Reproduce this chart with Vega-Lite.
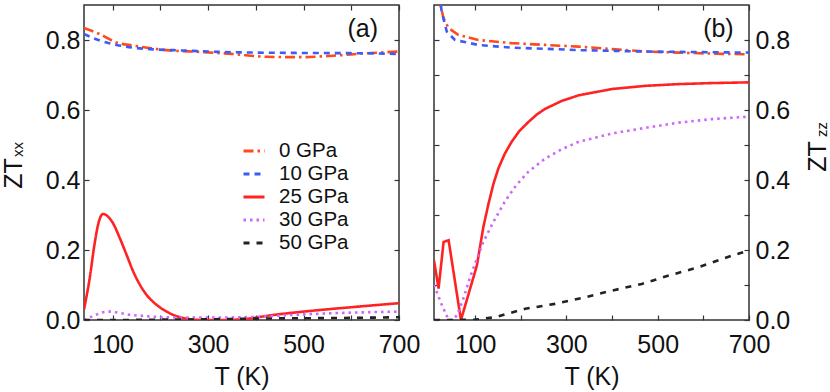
{
  "$schema": "https://vega.github.io/schema/vega-lite/v6.json",
  "background": "white",
  "padding": {"left": 0, "top": 3, "right": 0, "bottom": 0},
  "spacing": 11,
  "config": {
    "font": "Liberation Sans",
    "view": {"stroke": "#333333", "strokeWidth": 1.5},
    "axis": {
      "grid": false, "domain": false, "tickColor": "#333333", "tickSize": -5, "tickWidth": 1.2,
      "minExtent": 0,
      "labelFont": "Liberation Sans", "labelFontSize": 25, "labelColor": "#111111",
      "titleFont": "Liberation Sans", "titleFontSize": 25, "titleFontWeight": "normal", "titleColor": "#111111"
    }
  },
  "resolve": {"scale": {"color": "independent", "strokeDash": "independent"}},
  "datasets": {
    "a": [
      {"P": "0 GPa", "T": 40, "ZT": 0.834}, {"P": "0 GPa", "T": 73, "ZT": 0.817}, {"P": "0 GPa", "T": 108, "ZT": 0.793},
      {"P": "0 GPa", "T": 143, "ZT": 0.784}, {"P": "0 GPa", "T": 178, "ZT": 0.777}, {"P": "0 GPa", "T": 213, "ZT": 0.771},
      {"P": "0 GPa", "T": 282, "ZT": 0.766}, {"P": "0 GPa", "T": 352, "ZT": 0.760}, {"P": "0 GPa", "T": 422, "ZT": 0.752},
      {"P": "0 GPa", "T": 492, "ZT": 0.751}, {"P": "0 GPa", "T": 562, "ZT": 0.755}, {"P": "0 GPa", "T": 632, "ZT": 0.762},
      {"P": "0 GPa", "T": 700, "ZT": 0.767},
      {"P": "10 GPa", "T": 40, "ZT": 0.817}, {"P": "10 GPa", "T": 70, "ZT": 0.800}, {"P": "10 GPa", "T": 108, "ZT": 0.786},
      {"P": "10 GPa", "T": 143, "ZT": 0.778}, {"P": "10 GPa", "T": 178, "ZT": 0.774}, {"P": "10 GPa", "T": 247, "ZT": 0.770},
      {"P": "10 GPa", "T": 352, "ZT": 0.765}, {"P": "10 GPa", "T": 492, "ZT": 0.763}, {"P": "10 GPa", "T": 632, "ZT": 0.762},
      {"P": "10 GPa", "T": 700, "ZT": 0.760},
      {"P": "25 GPa", "T": 40, "ZT": 0.03}, {"P": "25 GPa", "T": 52, "ZT": 0.12}, {"P": "25 GPa", "T": 62, "ZT": 0.216},
      {"P": "25 GPa", "T": 70, "ZT": 0.275}, {"P": "25 GPa", "T": 75, "ZT": 0.296}, {"P": "25 GPa", "T": 80, "ZT": 0.303},
      {"P": "25 GPa", "T": 85, "ZT": 0.301}, {"P": "25 GPa", "T": 92, "ZT": 0.293},
      {"P": "25 GPa", "T": 101, "ZT": 0.276}, {"P": "25 GPa", "T": 115, "ZT": 0.234}, {"P": "25 GPa", "T": 129, "ZT": 0.187},
      {"P": "25 GPa", "T": 143, "ZT": 0.139}, {"P": "25 GPa", "T": 157, "ZT": 0.101}, {"P": "25 GPa", "T": 171, "ZT": 0.072},
      {"P": "25 GPa", "T": 192, "ZT": 0.0435}, {"P": "25 GPa", "T": 213, "ZT": 0.024}, {"P": "25 GPa", "T": 234, "ZT": 0.011},
      {"P": "25 GPa", "T": 255, "ZT": 0.004}, {"P": "25 GPa", "T": 290, "ZT": 0.0}, {"P": "25 GPa", "T": 330, "ZT": 0.0},
      {"P": "25 GPa", "T": 370, "ZT": 0.002}, {"P": "25 GPa", "T": 440, "ZT": 0.015}, {"P": "25 GPa", "T": 500, "ZT": 0.024},
      {"P": "25 GPa", "T": 562, "ZT": 0.032}, {"P": "25 GPa", "T": 630, "ZT": 0.040}, {"P": "25 GPa", "T": 700, "ZT": 0.048},
      {"P": "30 GPa", "T": 40, "ZT": 0.0}, {"P": "30 GPa", "T": 60, "ZT": 0.012}, {"P": "30 GPa", "T": 80, "ZT": 0.022},
      {"P": "30 GPa", "T": 95, "ZT": 0.024}, {"P": "30 GPa", "T": 115, "ZT": 0.02}, {"P": "30 GPa", "T": 136, "ZT": 0.015},
      {"P": "30 GPa", "T": 170, "ZT": 0.011}, {"P": "30 GPa", "T": 205, "ZT": 0.008}, {"P": "30 GPa", "T": 260, "ZT": 0.007},
      {"P": "30 GPa", "T": 320, "ZT": 0.007}, {"P": "30 GPa", "T": 400, "ZT": 0.009}, {"P": "30 GPa", "T": 443, "ZT": 0.012},
      {"P": "30 GPa", "T": 500, "ZT": 0.016}, {"P": "30 GPa", "T": 600, "ZT": 0.021}, {"P": "30 GPa", "T": 700, "ZT": 0.024},
      {"P": "50 GPa", "T": 40, "ZT": 0.0}, {"P": "50 GPa", "T": 100, "ZT": 0.0}, {"P": "50 GPa", "T": 200, "ZT": 0.001},
      {"P": "50 GPa", "T": 300, "ZT": 0.002}, {"P": "50 GPa", "T": 400, "ZT": 0.004}, {"P": "50 GPa", "T": 500, "ZT": 0.005},
      {"P": "50 GPa", "T": 600, "ZT": 0.006}, {"P": "50 GPa", "T": 700, "ZT": 0.008}
    ],
    "b": [
      {"P": "0 GPa", "T": 20, "ZT": 0.94}, {"P": "0 GPa", "T": 23, "ZT": 0.905}, {"P": "0 GPa", "T": 31, "ZT": 0.862},
      {"P": "0 GPa", "T": 42, "ZT": 0.834}, {"P": "0 GPa", "T": 63, "ZT": 0.815}, {"P": "0 GPa", "T": 107, "ZT": 0.80},
      {"P": "0 GPa", "T": 180, "ZT": 0.791}, {"P": "0 GPa", "T": 253, "ZT": 0.786}, {"P": "0 GPa", "T": 327, "ZT": 0.781},
      {"P": "0 GPa", "T": 400, "ZT": 0.774}, {"P": "0 GPa", "T": 473, "ZT": 0.767}, {"P": "0 GPa", "T": 546, "ZT": 0.764},
      {"P": "0 GPa", "T": 620, "ZT": 0.761}, {"P": "0 GPa", "T": 700, "ZT": 0.759},
      {"P": "10 GPa", "T": 22, "ZT": 0.93}, {"P": "10 GPa", "T": 27, "ZT": 0.88}, {"P": "10 GPa", "T": 38, "ZT": 0.824},
      {"P": "10 GPa", "T": 56, "ZT": 0.80}, {"P": "10 GPa", "T": 107, "ZT": 0.786}, {"P": "10 GPa", "T": 180, "ZT": 0.778},
      {"P": "10 GPa", "T": 253, "ZT": 0.775}, {"P": "10 GPa", "T": 327, "ZT": 0.771}, {"P": "10 GPa", "T": 473, "ZT": 0.767},
      {"P": "10 GPa", "T": 700, "ZT": 0.764},
      {"P": "25 GPa", "T": 10, "ZT": 0.17}, {"P": "25 GPa", "T": 20, "ZT": 0.09}, {"P": "25 GPa", "T": 31, "ZT": 0.223},
      {"P": "25 GPa", "T": 42, "ZT": 0.228}, {"P": "25 GPa", "T": 69, "ZT": 0.0}, {"P": "25 GPa", "T": 89, "ZT": 0.089},
      {"P": "25 GPa", "T": 104, "ZT": 0.156}, {"P": "25 GPa", "T": 118, "ZT": 0.265}, {"P": "25 GPa", "T": 129, "ZT": 0.330},
      {"P": "25 GPa", "T": 140, "ZT": 0.388}, {"P": "25 GPa", "T": 151, "ZT": 0.433}, {"P": "25 GPa", "T": 165, "ZT": 0.475},
      {"P": "25 GPa", "T": 180, "ZT": 0.509}, {"P": "25 GPa", "T": 197, "ZT": 0.540}, {"P": "25 GPa", "T": 217, "ZT": 0.566},
      {"P": "25 GPa", "T": 235, "ZT": 0.587}, {"P": "25 GPa", "T": 253, "ZT": 0.603}, {"P": "25 GPa", "T": 290, "ZT": 0.626},
      {"P": "25 GPa", "T": 327, "ZT": 0.642}, {"P": "25 GPa", "T": 400, "ZT": 0.660},
      {"P": "25 GPa", "T": 473, "ZT": 0.669}, {"P": "25 GPa", "T": 546, "ZT": 0.674}, {"P": "25 GPa", "T": 620, "ZT": 0.677},
      {"P": "25 GPa", "T": 700, "ZT": 0.679},
      {"P": "30 GPa", "T": 10, "ZT": 0.10}, {"P": "30 GPa", "T": 16, "ZT": 0.08}, {"P": "30 GPa", "T": 25, "ZT": 0.05},
      {"P": "30 GPa", "T": 35, "ZT": 0.02}, {"P": "30 GPa", "T": 42, "ZT": 0.0}, {"P": "30 GPa", "T": 50, "ZT": 0.0},
      {"P": "30 GPa", "T": 60, "ZT": 0.013}, {"P": "30 GPa", "T": 74, "ZT": 0.06}, {"P": "30 GPa", "T": 89, "ZT": 0.122},
      {"P": "30 GPa", "T": 104, "ZT": 0.175}, {"P": "30 GPa", "T": 118, "ZT": 0.223}, {"P": "30 GPa", "T": 140, "ZT": 0.28},
      {"P": "30 GPa", "T": 166, "ZT": 0.340}, {"P": "30 GPa", "T": 190, "ZT": 0.385}, {"P": "30 GPa", "T": 217, "ZT": 0.424},
      {"P": "30 GPa", "T": 253, "ZT": 0.461}, {"P": "30 GPa", "T": 290, "ZT": 0.488}, {"P": "30 GPa", "T": 327, "ZT": 0.509},
      {"P": "30 GPa", "T": 400, "ZT": 0.533},
      {"P": "30 GPa", "T": 473, "ZT": 0.549}, {"P": "30 GPa", "T": 546, "ZT": 0.564}, {"P": "30 GPa", "T": 619, "ZT": 0.574},
      {"P": "30 GPa", "T": 700, "ZT": 0.581},
      {"P": "50 GPa", "T": 10, "ZT": 0.0}, {"P": "50 GPa", "T": 50, "ZT": 0.0}, {"P": "50 GPa", "T": 100, "ZT": 0.001},
      {"P": "50 GPa", "T": 144, "ZT": 0.008}, {"P": "50 GPa", "T": 210, "ZT": 0.032}, {"P": "50 GPa", "T": 275, "ZT": 0.046},
      {"P": "50 GPa", "T": 341, "ZT": 0.065}, {"P": "50 GPa", "T": 400, "ZT": 0.084}, {"P": "50 GPa", "T": 465, "ZT": 0.103},
      {"P": "50 GPa", "T": 524, "ZT": 0.127}, {"P": "50 GPa", "T": 590, "ZT": 0.151}, {"P": "50 GPa", "T": 663, "ZT": 0.184},
      {"P": "50 GPa", "T": 700, "ZT": 0.199}
    ]
  },
  "hconcat": [
    {
      "width": 315, "height": 315,
      "layer": [
        {
          "data": {"name": "a"},
          "mark": {"type": "line", "strokeWidth": 2.6, "clip": true, "strokeCap": "butt", "interpolate": "monotone"},
          "encoding": {
            "x": {"field": "T", "type": "quantitative",
              "scale": {"domain": [40, 700], "nice": false, "zero": false},
              "axis": {"orient": "bottom", "values": [100, 200, 300, 400, 500, 600, 700],
                "labelExpr": "datum.value % 200 == 100 ? datum.label : ''",
                "title": "T (K)", "labelPadding": 17, "titlePadding": 7, "labelFlush": false}},
            "y": {"field": "ZT", "type": "quantitative",
              "scale": {"domain": [0, 0.9], "nice": false},
              "axis": {"orient": "left", "values": [0, 0.2, 0.4, 0.6, 0.8], "format": ".1f",
                "labelPadding": 9, "title": "ZT", "titleAngle": -90, "titleBaseline": "alphabetic",
                "titleAlign": "center", "titleX": -63, "titleY": 168}},
            "color": {"field": "P", "type": "nominal",
              "scale": {"domain": ["0 GPa", "10 GPa", "25 GPa", "30 GPa", "50 GPa"],
                "range": ["#ff4a1c", "#3c5cf5", "#ff2222", "#cc66ff", "#222222"]},
              "legend": {"orient": "none", "legendX": 158, "legendY": 134, "title": null, "padding": 0,
                "labelFontSize": 20.5, "labelFont": "Liberation Sans", "labelColor": "#111111",
                "symbolType": "stroke", "symbolSize": 441, "symbolStrokeWidth": 3, "labelOffset": 13,
                "rowPadding": -6,
                "labelExpr": "datum.label == '0 GPa' ? '\u2007' + datum.label : datum.label"}},
            "strokeDash": {"field": "P", "type": "nominal",
              "scale": {"domain": ["0 GPa", "10 GPa", "25 GPa", "30 GPa", "50 GPa"],
                "range": [[10, 4, 2.5, 4], [6, 5], [1, 0], [2.5, 4], [6, 7]]},
              "legend": {"orient": "none", "legendX": 158, "legendY": 134, "title": null, "padding": 0,
                "labelFontSize": 20.5, "labelFont": "Liberation Sans", "labelColor": "#111111",
                "symbolType": "stroke", "symbolSize": 441, "symbolStrokeWidth": 3, "labelOffset": 13,
                "rowPadding": -6,
                "labelExpr": "datum.label == '0 GPa' ? '\u2007' + datum.label : datum.label"}}
          }
        },
        {
          "data": {"values": [{}]},
          "mark": {"type": "text", "fontSize": 25, "font": "Liberation Sans", "color": "#111111", "baseline": "middle", "align": "center"},
          "encoding": {
            "x": {"datum": 624, "type": "quantitative",
              "axis": {"orient": "top", "labels": false, "title": null, "values": [100, 200, 300, 400, 500, 600, 700]}},
            "y": {"datum": 0.832, "type": "quantitative",
              "axis": {"orient": "right", "labels": false, "values": [0, 0.2, 0.4, 0.6, 0.8],
                "title": "xx", "titleFontSize": 15, "titleAngle": -90, "titleBaseline": "alphabetic",
                "titleAlign": "center", "titleX": -377, "titleY": 144}},
            "text": {"value": "(a)"}
          }
        }
      ]
    },
    {
      "width": 315, "height": 315,
      "layer": [
        {
          "data": {"name": "b"},
          "mark": {"type": "line", "strokeWidth": 2.6, "clip": true, "strokeCap": "butt"},
          "encoding": {
            "x": {"field": "T", "type": "quantitative",
              "scale": {"domain": [10, 700], "nice": false, "zero": false},
              "axis": {"orient": "bottom", "values": [100, 200, 300, 400, 500, 600, 700],
                "labelExpr": "datum.value % 200 == 100 ? datum.label : ''",
                "title": "T (K)", "labelPadding": 17, "titlePadding": 7, "labelFlush": false}},
            "y": {"field": "ZT", "type": "quantitative",
              "scale": {"domain": [0, 0.9], "nice": false},
              "axis": {"orient": "right", "values": [0, 0.1, 0.2, 0.3, 0.4, 0.5, 0.6, 0.7, 0.8], "format": ".1f",
                "labelExpr": "round(datum.value * 10) % 2 == 0 ? datum.label : ''",
                "labelPadding": 11, "title": "ZT", "titleAngle": -90, "titleBaseline": "alphabetic",
                "titleAlign": "center", "titleX": 76, "titleY": 151}},
            "color": {"field": "P", "type": "nominal",
              "scale": {"domain": ["0 GPa", "10 GPa", "25 GPa", "30 GPa", "50 GPa"],
                "range": ["#ff4a1c", "#3c5cf5", "#ff2222", "#cc66ff", "#222222"]},
              "legend": null},
            "strokeDash": {"field": "P", "type": "nominal",
              "scale": {"domain": ["0 GPa", "10 GPa", "25 GPa", "30 GPa", "50 GPa"],
                "range": [[10, 4, 2.5, 4], [6, 5], [1, 0], [2.5, 4], [6, 7]]},
              "legend": null}
          }
        },
        {
          "data": {"values": [{}]},
          "mark": {"type": "text", "fontSize": 25, "font": "Liberation Sans", "color": "#111111", "baseline": "middle", "align": "center"},
          "encoding": {
            "x": {"datum": 633, "type": "quantitative",
              "axis": {"orient": "top", "labels": false, "title": null, "values": [100, 200, 300, 400, 500, 600, 700]}},
            "y": {"datum": 0.832, "type": "quantitative",
              "axis": {"orient": "left", "labels": false, "values": [0, 0.1, 0.2, 0.3, 0.4, 0.5, 0.6, 0.7, 0.8],
                "title": "zz", "titleFontSize": 15, "titleAngle": -90, "titleBaseline": "alphabetic",
                "titleAlign": "center", "titleX": 392, "titleY": 124}},
            "text": {"value": "(b)"}
          }
        }
      ]
    }
  ]
}
